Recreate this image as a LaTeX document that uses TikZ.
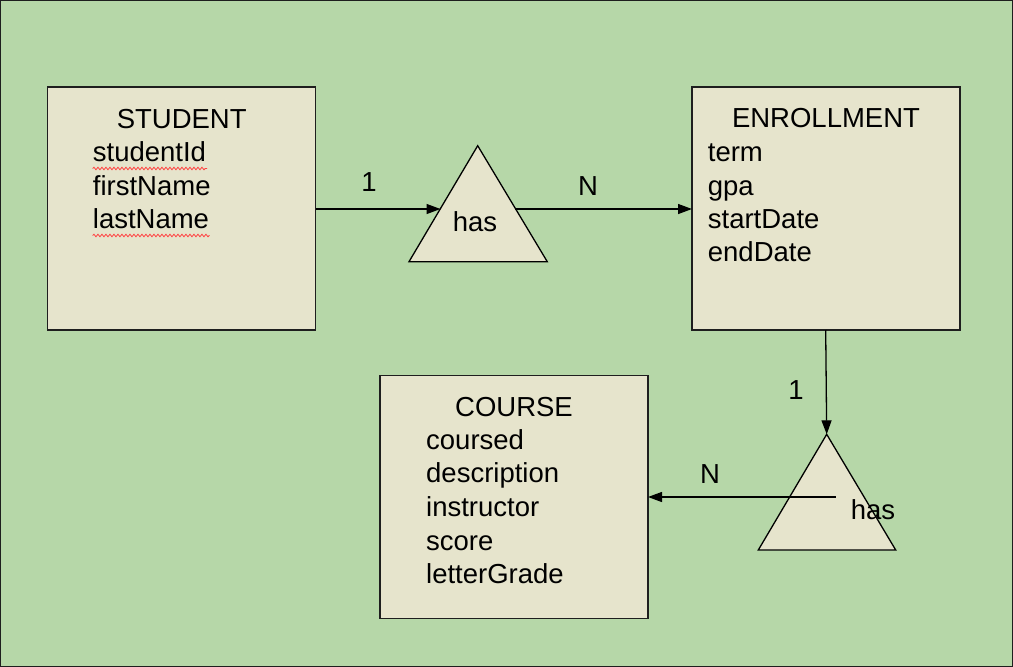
\documentclass[tikz,border=0pt]{standalone}
\usepackage{fontspec}
\setmainfont{Liberation Sans}
\usetikzlibrary{arrows.meta,decorations.pathmorphing}
\definecolor{bggreen}{HTML}{B6D7A8}
\definecolor{boxbeige}{HTML}{E6E4CC}
\definecolor{edgegray}{HTML}{1E1E1E}
\begin{document}
\begin{tikzpicture}[x=1pt,y=-1pt,
  font=\fontsize{27.5pt}{33pt}\selectfont,
  entity/.style={draw=edgegray,line width=1.4pt,fill=boxbeige},
  rel/.style={draw=black,line width=1.3pt,fill=boxbeige,line join=miter},
  txt/.style={inner sep=0pt,anchor=base west},
  ttl/.style={inner sep=0pt,anchor=base},
  lbl/.style={inner sep=0pt},
  conn/.style={line width=1.3pt,-{Triangle[length=14pt,width=10pt]}},
  squig/.style={draw=red!75,line width=0.8pt,decorate,decoration={snake,amplitude=1.3pt,segment length=4pt}}]
\useasboundingbox (0,0) rectangle (1013,667);
\fill[bggreen] (0,0) rectangle (1013,667);
\draw[edgegray,line width=2.5pt] (0,0) rectangle (1013,667);

% entity boxes
\draw[entity] (47.5,87) rectangle (315.5,330);
\coordinate (stud) at (315.5,209);
\draw[entity] (692,87) rectangle (960,330);
\coordinate (enrL) at (692,209);
\coordinate (enrB) at (825.7,330);
\draw[entity] (380,375.5) rectangle (648,618.5);
\coordinate (crsR) at (648,497);

% relationship triangles
\draw[rel] (477.7,145.7) -- (547.3,261.7) -- (409,261.7) -- cycle;
\coordinate (has1L) at (440.5,209);
\coordinate (has1R) at (515,209);
\draw[rel] (826.7,434.3) -- (895.7,550) -- (758.3,550) -- cycle;
\coordinate (has2T) at (826.7,434.3);
\coordinate (has2in) at (835.7,497);

% STUDENT text
\node[ttl] (st) at (181.7,128.3) {STUDENT};
\node[txt] (s1) at (92.7,161.7) {studentId};
\node[txt] (s2) at (92.7,195) {firstName};
\node[txt] (s3) at (92.7,228.3) {lastName};
\draw[squig] (92.7,168.5) -- (207,168.5);
\draw[squig] (92.7,235.5) -- (209.5,235.5);

% ENROLLMENT text
\node[ttl] (et) at (826,127.7) {ENROLLMENT};
\node[txt] (e1) at (707.7,161.3) {term};
\node[txt] (e2) at (707.7,195) {gpa};
\node[txt] (e3) at (707.7,228) {startDate};
\node[txt] (e4) at (707.7,261.7) {endDate};

% COURSE text
\node[ttl] (ct) at (514,416) {COURSE};
\node[txt] (c1) at (426,449.3) {coursed};
\node[txt] (c2) at (426,482.7) {description};
\node[txt] (c3) at (426,516.7) {instructor};
\node[txt] (c4) at (426,550) {score};
\node[txt] (c5) at (426,583.3) {letterGrade};

% relationship names
\node[ttl] (h1) at (475,231.7) {has};
\node[ttl] (h2) at (873,519.3) {has};

% connectors
\draw[conn] (stud) -- (has1L);
\draw[conn] (has1R) -- (enrL);
\draw[conn] (enrB) -- (has2T);
\draw[conn] (has2in) -- (crsR);

% cardinality labels
\node[lbl] (l1) at (369,182) {1};
\node[lbl] (l2) at (588,186) {N};
\node[lbl] (l3) at (796,390) {1};
\node[lbl] (l4) at (710,474) {N};
\end{tikzpicture}
\end{document}
